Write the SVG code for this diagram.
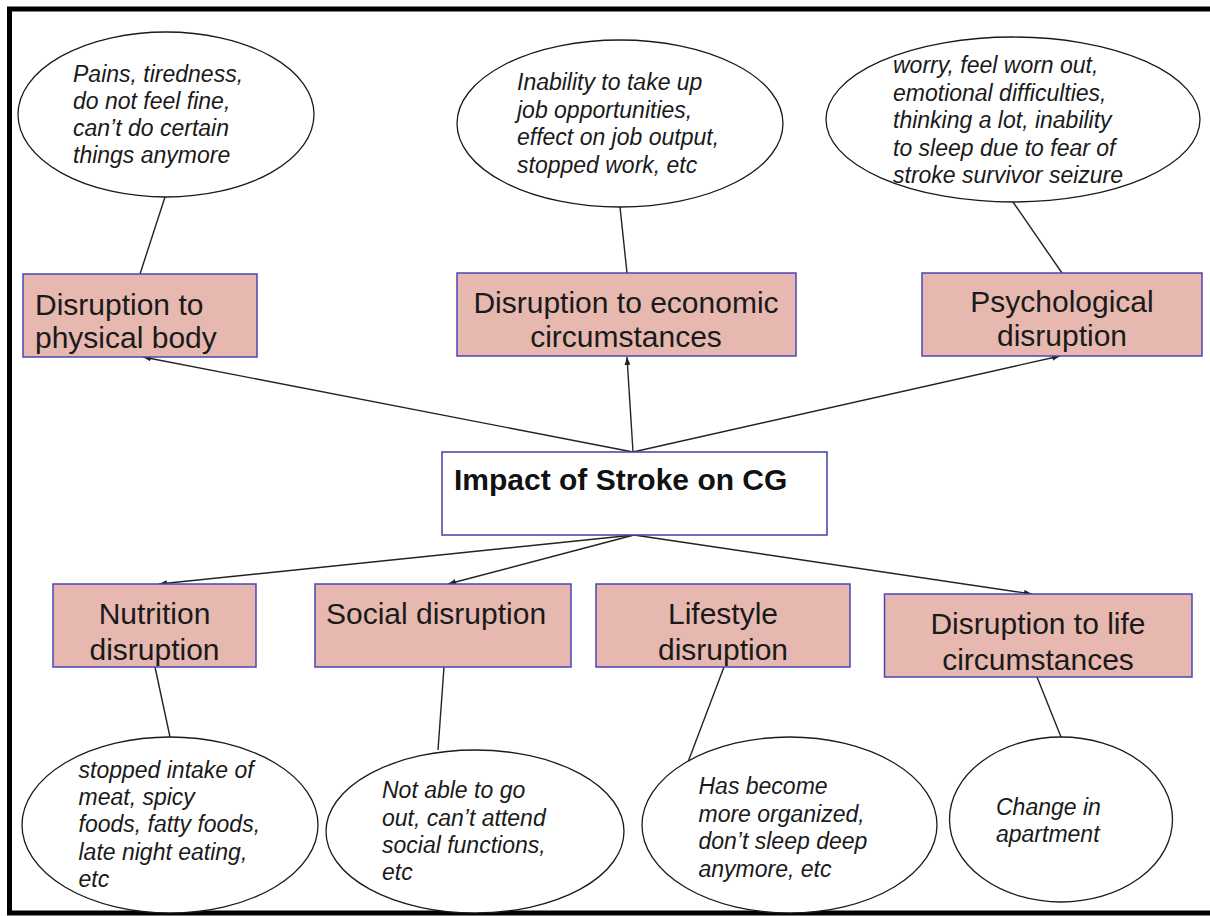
<svg xmlns="http://www.w3.org/2000/svg" width="1210" height="916" viewBox="0 0 1210 916">
  <style>
    .note { fill: #ffffff; stroke: #1a1a1a; stroke-width: 1.3; }
    .cat { fill: #e6b8af; stroke: #4b45b8; stroke-width: 1.5; }
    .core { fill: #ffffff; stroke: #3f3fa8; stroke-width: 1.5; }
    .link { stroke: #222222; stroke-width: 1.4; fill: none; }
    .arrow { stroke: #222222; stroke-width: 1.4; fill: none; marker-end: url(#head); }
    .nt { font-family: "Liberation Sans", Arial, sans-serif; font-style: italic; font-size: 23px; fill: #1a1a1a; }
    .ct { font-family: "Liberation Sans", Arial, sans-serif; font-size: 30px; fill: #1a1a1a; }
    .mid { text-anchor: middle; }
    .hd { font-family: "Liberation Sans", Arial, sans-serif; font-weight: bold; font-size: 30px; fill: #111111; }
  </style>
  <defs>
    <marker id="head" markerWidth="8" markerHeight="6" refX="8" refY="3" orient="auto" markerUnits="userSpaceOnUse">
      <path d="M0,0 L8,3 L0,6 z" fill="#222222"/>
    </marker>
  </defs>

  <rect width="1210" height="916" fill="#ffffff"/>
  <!-- outer frame (open on the right edge) -->
  <rect x="9.5" y="9" width="1220" height="904" fill="none" stroke="#000000" stroke-width="5"/>

  <!-- connectors -->
  <g id="connectors">
    <line class="arrow" x1="633" y1="452" x2="143" y2="357"/>
    <line class="arrow" x1="633" y1="452" x2="627" y2="357"/>
    <line class="arrow" x1="633" y1="452" x2="1060" y2="356"/>
    <line class="arrow" x1="634" y1="535" x2="159" y2="584"/>
    <line class="arrow" x1="634" y1="535" x2="448" y2="584"/>
    <line class="arrow" x1="634" y1="535" x2="1032" y2="594"/>
    <line class="link" x1="165" y1="197" x2="140" y2="274"/>
    <line class="link" x1="620" y1="207" x2="627" y2="273"/>
    <line class="link" x1="1013" y1="202" x2="1062" y2="273"/>
    <line class="link" x1="155" y1="667" x2="170" y2="737"/>
    <line class="link" x1="444" y1="667" x2="438" y2="750"/>
    <line class="link" x1="724" y1="667" x2="688" y2="762"/>
    <line class="link" x1="1037" y1="677" x2="1061" y2="737"/>
  </g>

  <!-- central node -->
  <g id="impact">
    <rect class="core" x="442" y="452" width="385" height="83"/>
    <text class="hd" x="454" y="490">Impact of Stroke on CG</text>
  </g>

  <!-- upper categories -->
  <g id="physical">
    <rect class="cat" x="23" y="274" width="234" height="83"/>
    <text class="ct" x="35" y="315">Disruption to</text>
    <text class="ct" x="35" y="348">physical body</text>
  </g>
  <g id="economic">
    <rect class="cat" x="457" y="273" width="339" height="83"/>
    <text class="ct mid" x="626" y="313">Disruption to economic</text>
    <text class="ct mid" x="626" y="347">circumstances</text>
  </g>
  <g id="psychological">
    <rect class="cat" x="922" y="273" width="280" height="83"/>
    <text class="ct mid" x="1062" y="312">Psychological</text>
    <text class="ct mid" x="1062" y="346">disruption</text>
  </g>

  <!-- upper notes -->
  <g id="physical-note">
    <ellipse class="note" cx="166" cy="114.5" rx="148" ry="82.5"/>
    <text class="nt" x="73" y="82">Pains, tiredness,</text>
    <text class="nt" x="73" y="109">do not feel fine,</text>
    <text class="nt" x="73" y="136">can’t do certain</text>
    <text class="nt" x="73" y="163">things anymore</text>
  </g>
  <g id="economic-note">
    <ellipse class="note" cx="620" cy="123.5" rx="163" ry="83.5"/>
    <text class="nt" x="517" y="90">Inability to take up</text>
    <text class="nt" x="517" y="117.5">job opportunities,</text>
    <text class="nt" x="517" y="145">effect on job output,</text>
    <text class="nt" x="517" y="172.5">stopped work, etc</text>
  </g>
  <g id="psychological-note">
    <ellipse class="note" cx="1013" cy="119.5" rx="187" ry="82.5"/>
    <text class="nt" x="893" y="73">worry, feel worn out,</text>
    <text class="nt" x="893" y="100.5">emotional difficulties,</text>
    <text class="nt" x="893" y="128">thinking a lot, inability</text>
    <text class="nt" x="893" y="155.5">to sleep due to fear of</text>
    <text class="nt" x="893" y="183">stroke survivor seizure</text>
  </g>

  <!-- lower categories -->
  <g id="nutrition">
    <rect class="cat" x="53" y="584" width="203" height="83"/>
    <text class="ct mid" x="154.5" y="624">Nutrition</text>
    <text class="ct mid" x="154.5" y="660">disruption</text>
  </g>
  <g id="social">
    <rect class="cat" x="315" y="584" width="256" height="83"/>
    <text class="ct mid" x="436" y="624">Social disruption</text>
  </g>
  <g id="lifestyle">
    <rect class="cat" x="596" y="584" width="254" height="83"/>
    <text class="ct mid" x="723" y="624">Lifestyle</text>
    <text class="ct mid" x="723" y="660">disruption</text>
  </g>
  <g id="life-circumstances">
    <rect class="cat" x="884.5" y="594" width="307.5" height="83"/>
    <text class="ct mid" x="1038" y="634">Disruption to life</text>
    <text class="ct mid" x="1038" y="670">circumstances</text>
  </g>

  <!-- lower notes -->
  <g id="nutrition-note">
    <ellipse class="note" cx="170" cy="825" rx="148" ry="88"/>
    <text class="nt" x="78.5" y="778">stopped intake of</text>
    <text class="nt" x="78.5" y="805">meat, spicy</text>
    <text class="nt" x="78.5" y="832">foods, fatty foods,</text>
    <text class="nt" x="78.5" y="860">late night eating,</text>
    <text class="nt" x="78.5" y="887">etc</text>
  </g>
  <g id="social-note">
    <ellipse class="note" cx="475" cy="831.5" rx="149" ry="81.5"/>
    <text class="nt" x="382" y="798">Not able to go</text>
    <text class="nt" x="382" y="826">out, can’t attend</text>
    <text class="nt" x="382" y="853">social functions,</text>
    <text class="nt" x="382" y="880">etc</text>
  </g>
  <g id="lifestyle-note">
    <ellipse class="note" cx="789.5" cy="825" rx="147.5" ry="88"/>
    <text class="nt" x="698.5" y="794">Has become</text>
    <text class="nt" x="698.5" y="821.5">more organized,</text>
    <text class="nt" x="698.5" y="849">don’t sleep deep</text>
    <text class="nt" x="698.5" y="876.5">anymore, etc</text>
  </g>
  <g id="apartment-note">
    <ellipse class="note" cx="1061" cy="819.5" rx="111.5" ry="82.5"/>
    <text class="nt" x="996" y="815">Change in</text>
    <text class="nt" x="996" y="842">apartment</text>
  </g>
</svg>
